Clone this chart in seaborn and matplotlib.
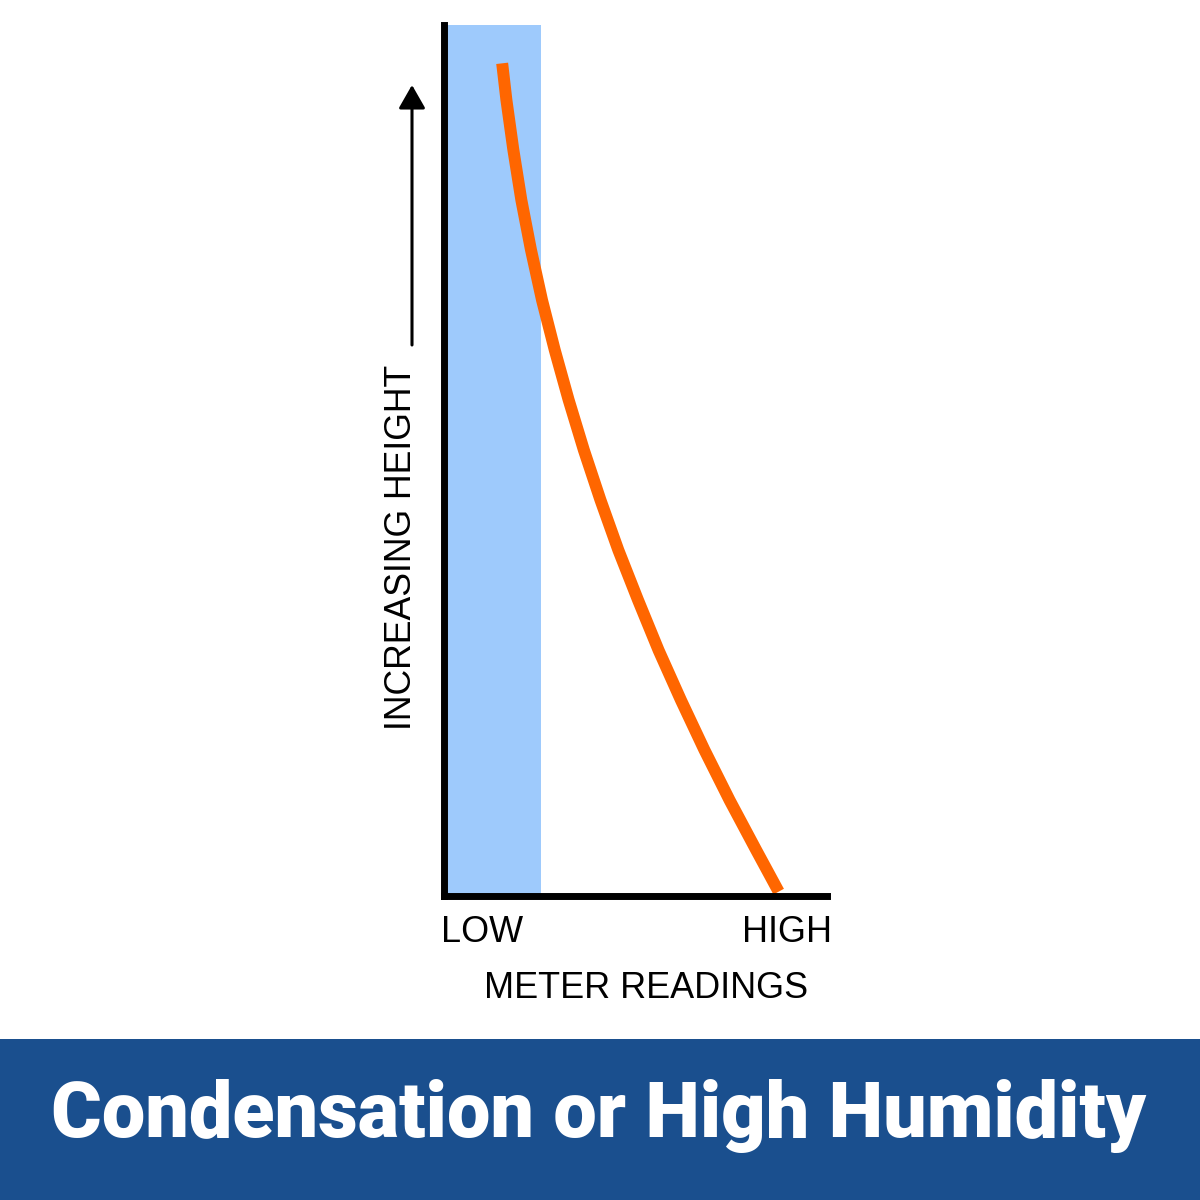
import matplotlib
matplotlib.use("Agg")
import matplotlib.pyplot as plt
import seaborn as sns
import pandas as pd

# ---- data ----
meter_reading = [15.3, 16.4, 18.2, 20.3, 22.8, 25.7, 29.0, 32.6, 36.6, 40.9,
                 45.6, 50.7, 56.1, 61.9, 68.0, 74.6, 81.5, 87.4]
height = [95.6, 91.4, 85.7, 79.9, 74.2, 68.4, 62.7, 57.0, 51.2, 45.5,
          39.7, 34.0, 28.2, 22.5, 16.8, 11.0, 5.3, 0.5]
band_x = [0.0, 25.5]
x_labels = ["LOW", "HIGH"]
x_title = "METER READINGS"
y_title = "INCREASING HEIGHT"
banner_title = "Condensation or High Humidity"

sns.set_theme(style="white")
plt.rcParams["font.family"] = ["Liberation Sans", "DejaVu Sans"]

df = pd.DataFrame({"reading": meter_reading, "height": height})

W = H = 1200
fig = plt.figure(figsize=(12, 12), dpi=100)
ax = fig.add_axes([443.5 / W, (H - 896) / H, 383.5 / W, (896 - 25) / H])

ax.axvspan(band_x[0], band_x[1], color="#9ecafc", lw=0, zorder=1)
sns.lineplot(data=df, x="reading", y="height", sort=False, color="#ff6600",
             lw=8.6, ax=ax, solid_capstyle="butt", solid_joinstyle="round", zorder=2)

ax.set_xlim(0, 100)
ax.set_ylim(0, 100)
ax.set_xticks([])
ax.set_yticks([])
ax.set_xlabel("")
ax.set_ylabel("")
ax.set_facecolor("none")
for s in ["top", "right"]:
    ax.spines[s].set_visible(False)
for s in ["left", "bottom"]:
    ax.spines[s].set_linewidth(5)
    ax.spines[s].set_color("black")
    ax.spines[s].set_capstyle("projecting")

renderer = fig.canvas.get_renderer()


def fit_size(text, target_px, family, weight="normal", base=40):
    t = fig.text(0, 0, text, fontsize=base, family=family, fontweight=weight)
    w = t.get_window_extent(renderer).width
    t.remove()
    return base * target_px / w


LAB_FAM = ["Liberation Sans", "DejaVu Sans"]
lab_fs = fit_size(x_title, 323, LAB_FAM)
lab_px = lab_fs * 100 / 72
cap = 0.72 * lab_px

fig.text(441 / W, (H - (929 + cap / 2)) / H, x_labels[0], ha="left", va="baseline",
         fontsize=lab_fs, family=LAB_FAM, color="black")
fig.text(832 / W, (H - (929 + cap / 2)) / H, x_labels[1], ha="right", va="baseline",
         fontsize=lab_fs, family=LAB_FAM, color="black")
fig.text(646.5 / W, (H - (985 + cap / 2)) / H, x_title, ha="center", va="baseline",
         fontsize=lab_fs, family=LAB_FAM, color="black")

ylab_fs = fit_size(y_title, 365, LAB_FAM)
ycap = 0.72 * ylab_fs * 100 / 72
fig.text((398.5 + ycap / 2) / W, (H - 547.5) / H, y_title, ha="center", va="baseline",
         rotation=90, rotation_mode="anchor", fontsize=ylab_fs, family=LAB_FAM,
         color="black")

# arrow
ax.annotate("", xy=(412, H - 85), xytext=(412, H - 345),
            xycoords="figure pixels", textcoords="figure pixels",
            arrowprops=dict(arrowstyle="-|>,head_length=0.35,head_width=0.2",
                            mutation_scale=41, lw=2.2, color="black",
                            shrinkA=0, shrinkB=0))

# banner
banner = plt.Rectangle((0, 0), 1, (H - 1039) / H, transform=fig.transFigure,
                       facecolor="#1a4f8e", edgecolor="none", zorder=0)
fig.patches.append(banner)
TIT_FAM = ["Roboto", "Liberation Sans", "DejaVu Sans"]
TIT_W = 900
tit_fs = fit_size(banner_title, 1093, TIT_FAM, weight=TIT_W)
tcap = 0.71 * tit_fs * 100 / 72
fig.text(598.5 / W, (H - (1110 + tcap / 2)) / H, banner_title, ha="center",
         va="baseline", fontsize=tit_fs, fontweight=TIT_W, family=TIT_FAM,
         color="white")

fig.savefig("out.png", dpi=100, facecolor="white")
